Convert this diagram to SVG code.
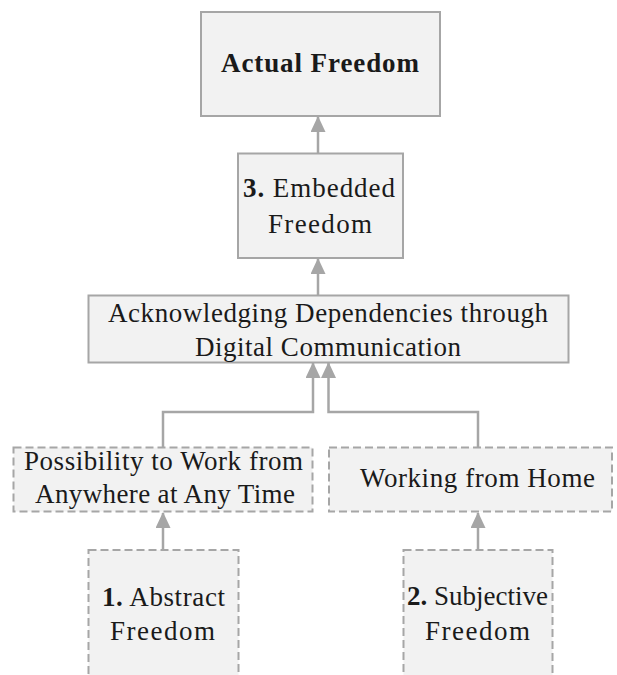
<svg xmlns="http://www.w3.org/2000/svg" width="617" height="675" viewBox="0 0 617 675">
  <defs>
    <marker id="arrow" viewBox="0 0 16 15" refX="15" refY="7.5" markerWidth="16" markerHeight="15" markerUnits="userSpaceOnUse" orient="auto">
      <path d="M0,0 L16,7.5 L0,15 Z" fill="#a6a6a6"/>
    </marker>
  </defs>
  <style>
    .box { fill: #f2f2f2; stroke: #a6a6a6; stroke-width: 2; }
    .dashed { stroke-dasharray: 8 4; }
    .lbl { font-family: 'Liberation Serif', serif; font-size: 27px; fill: #1a1a1a; }
    .b { font-weight: bold; }
    .edge { fill: none; stroke: #a6a6a6; stroke-width: 2.5; marker-end: url(#arrow); }
  </style>

  <rect width="617" height="675" fill="#ffffff"/>

  <!-- connectors -->
  <g id="connectors">
    <path class="edge" d="M318,153 V117"/>
    <path class="edge" d="M318,295 V259"/>
    <path class="edge" d="M163,447 V412 H313 V363"/>
    <path class="edge" d="M478,447 V412 H328.5 V363"/>
    <path class="edge" d="M163,550 V513"/>
    <path class="edge" d="M478,550 V513"/>
  </g>

  <g font-family="Liberation Serif, serif">
    <g id="actual-freedom">
      <rect class="box" x="201" y="12" width="239" height="104"/>
      <text class="lbl b" x="221" y="72" textLength="198" lengthAdjust="spacing">Actual Freedom</text>
    </g>

    <g id="embedded-freedom">
      <rect class="box" x="238" y="153.5" width="165" height="104.5"/>
      <text class="lbl" x="243" y="197" textLength="152" lengthAdjust="spacing"><tspan class="b">3.</tspan> Embedded</text>
      <text class="lbl" x="268" y="233" textLength="104" lengthAdjust="spacing">Freedom</text>
    </g>

    <g id="acknowledging-dependencies">
      <rect class="box" x="88.5" y="295.5" width="480" height="67"/>
      <text class="lbl" x="108" y="322" textLength="440" lengthAdjust="spacing">Acknowledging Dependencies through</text>
      <text class="lbl" x="195" y="356" textLength="266" lengthAdjust="spacing">Digital Communication</text>
    </g>

    <g id="work-anywhere">
      <rect class="box dashed" x="13.5" y="447.5" width="299" height="64"/>
      <text class="lbl" x="24" y="470" textLength="279" lengthAdjust="spacing">Possibility to Work from</text>
      <text class="lbl" x="35" y="503" textLength="260" lengthAdjust="spacing">Anywhere at Any Time</text>
    </g>

    <g id="working-from-home">
      <rect class="box dashed" x="329" y="447.5" width="283" height="64"/>
      <text class="lbl" x="360" y="487" textLength="235" lengthAdjust="spacing">Working from Home</text>
    </g>

    <g id="abstract-freedom">
      <rect class="box dashed" x="88.5" y="550" width="150" height="140"/>
      <text class="lbl" x="102" y="606" textLength="123" lengthAdjust="spacing"><tspan class="b">1.</tspan> Abstract</text>
      <text class="lbl" x="110" y="640" textLength="105" lengthAdjust="spacing">Freedom</text>
    </g>

    <g id="subjective-freedom">
      <rect class="box dashed" x="403.5" y="550" width="149" height="140"/>
      <text class="lbl" x="407" y="605" textLength="141" lengthAdjust="spacing"><tspan class="b">2.</tspan> Subjective</text>
      <text class="lbl" x="425" y="640" textLength="105" lengthAdjust="spacing">Freedom</text>
    </g>
  </g>
</svg>
